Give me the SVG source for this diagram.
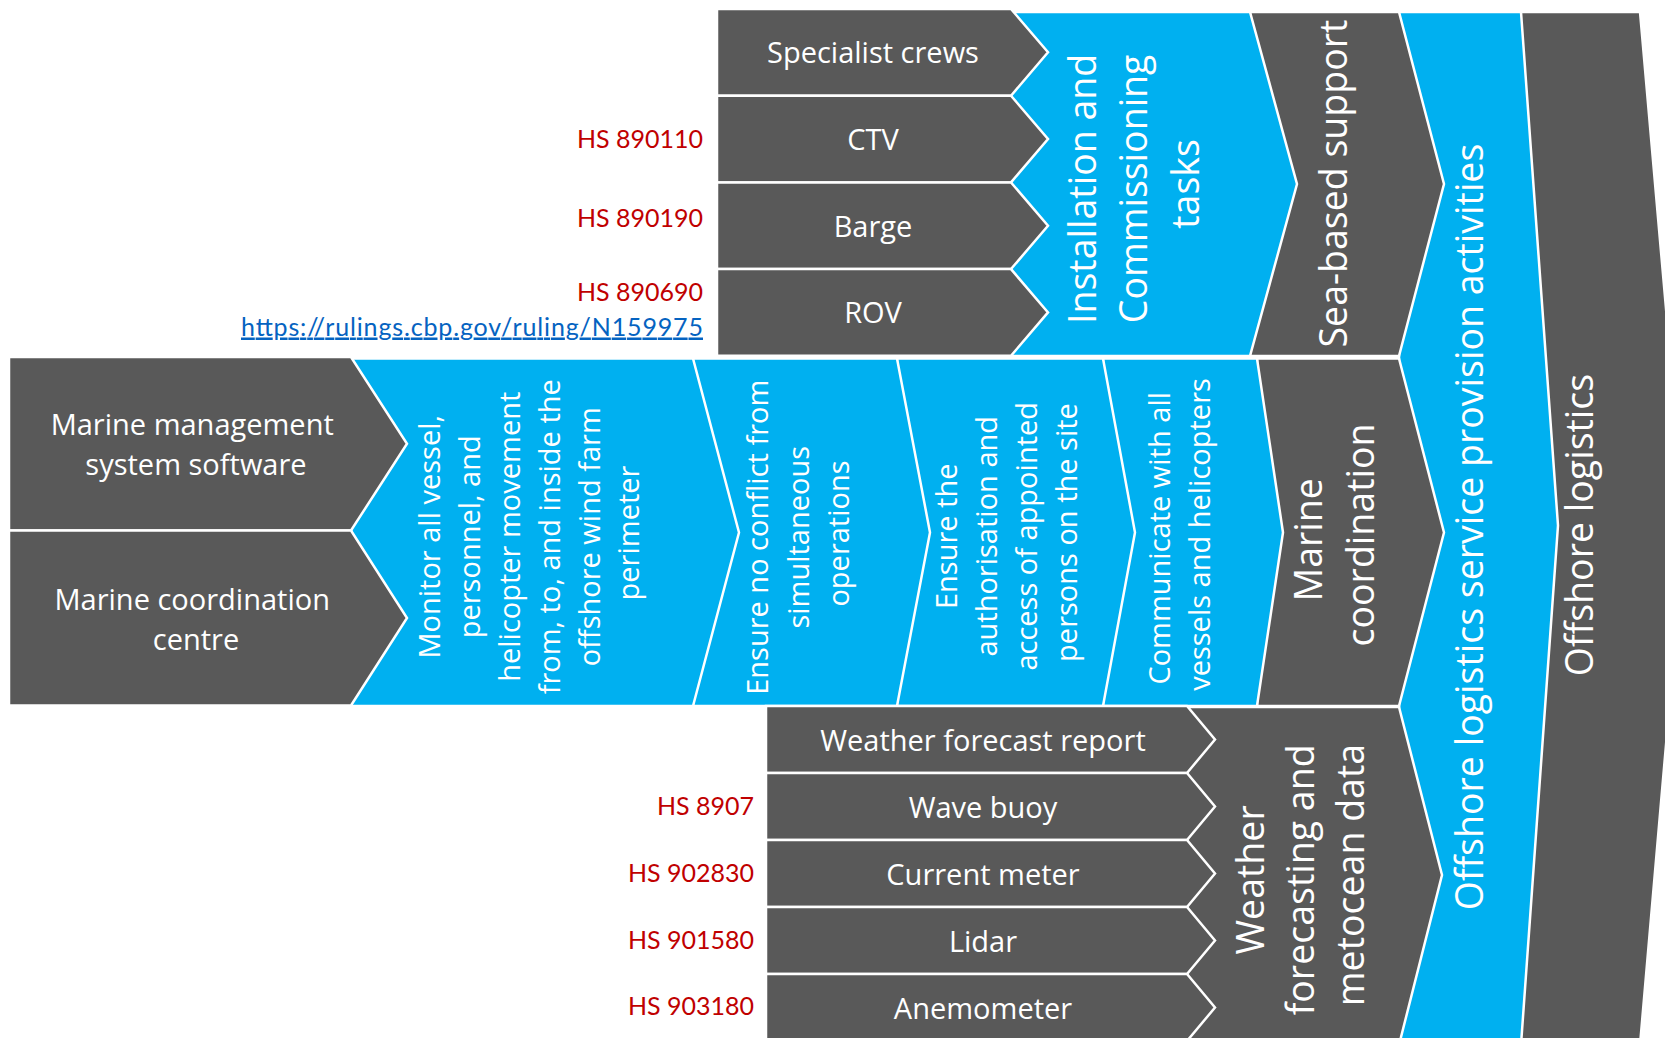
<svg xmlns="http://www.w3.org/2000/svg" width="1665" height="1038" viewBox="0 0 1665 1038">
  <style>
    .g { fill: #595959; stroke: #ffffff; stroke-width: 2.5; stroke-linejoin: miter; }
    .b { fill: #00B0F0; stroke: #ffffff; stroke-width: 2.5; stroke-linejoin: miter; }
    text { font-family: "Open Sans", "Liberation Sans", sans-serif; fill: #ffffff; text-anchor: middle; }
    .h { font-size: 29px; }
    .vl { font-size: 37.5px; }
    .vs { font-size: 29px; }
    .hs { font-family: Lato, "Open Sans", sans-serif; font-size: 25px; fill: #C00000; text-anchor: end; }
    .url { font-family: Lato, "Open Sans", sans-serif; font-size: 25px; fill: #0563C1; text-anchor: end; text-decoration: underline; }
  </style>
  <rect width="1665" height="1038" fill="#ffffff"/>

  <!-- outermost stage -->
  <g id="offshore-logistics">
    <polygon class="g" points="1500,12 1640,12 1685,525.5 1640,1045 1500,1045"/>
    <text class="vl" transform="rotate(-90)" x="-525" y="1593">Offshore logistics</text>
  </g>

  <g id="offshore-logistics-service">
    <polygon class="b" points="1399,12 1521,12 1558,525.5 1521,1045 1399,1045"/>
    <text class="vl" transform="rotate(-90)" x="-527" y="1483">Offshore logistics service provision activities</text>
  </g>

  <!-- second-level stages -->
  <g id="sea-based-support">
    <polygon class="g" points="1250,12 1399,12 1444,184 1399,356 1250,356"/>
    <text class="vl" transform="rotate(-90)" x="-183.5" y="1347">Sea-based support</text>
  </g>

  <g id="marine-coordination">
    <polygon class="g" points="1257,358.5 1399,358.5 1444,532.5 1399,706 1257,706"/>
    <text class="vl" transform="rotate(-90)">
      <tspan x="-535" y="1322">Marine</tspan>
      <tspan x="-535" y="1374">coordination</tspan>
    </text>
  </g>

  <g id="weather-forecasting">
    <polygon class="g" points="1187,707 1399,707 1442,875 1399,1045 1187,1045"/>
    <text class="vl" transform="rotate(-90)">
      <tspan x="-875" y="1264">Weather</tspan>
      <tspan x="-875" y="1314">forecasting and</tspan>
      <tspan x="-875" y="1364">metocean data</tspan>
    </text>
  </g>

  <!-- installation branch -->
  <g id="installation-commissioning">
    <polygon class="b" points="1011,12 1250,12 1297,184 1250,356 1011,356"/>
    <text class="vl" transform="rotate(-90)">
      <tspan x="-184" y="1096">Installation and</tspan>
      <tspan x="-184" y="1147">Commissioning</tspan>
      <tspan x="-184" y="1199">tasks</tspan>
    </text>
  </g>

  <!-- marine coordination tasks -->
  <g id="communicate">
    <polygon class="b" points="1103,358.5 1257,358.5 1283,532.5 1257,706 1103,706"/>
    <text class="vs" transform="rotate(-90)">
      <tspan x="-534.5" y="1170">Communicate with all</tspan>
      <tspan x="-534.5" y="1210">vessels and helicopters</tspan>
    </text>
  </g>

  <g id="ensure-authorisation">
    <polygon class="b" points="897,358.5 1103,358.5 1135,532.5 1103,706 897,706"/>
    <text class="vs" transform="rotate(-90)">
      <tspan x="-532.5" y="957">Ensure the</tspan>
      <tspan x="-532.5" y="997">authorisation and</tspan>
      <tspan x="-532.5" y="1037">access of appointed</tspan>
      <tspan x="-532.5" y="1077">persons on the site</tspan>
    </text>
  </g>

  <g id="ensure-no-conflict">
    <polygon class="b" points="693,358.5 897,358.5 930,532.5 897,706 693,706"/>
    <text class="vs" transform="rotate(-90)">
      <tspan x="-533.5" y="768">Ensure no conflict from</tspan>
      <tspan x="-533.5" y="808.5">simultaneous</tspan>
      <tspan x="-533.5" y="849">operations</tspan>
    </text>
  </g>

  <g id="monitor-movement">
    <polygon class="b" points="351,358.5 693,358.5 739,532.5 693,706 351,706"/>
    <text class="vs" transform="rotate(-90)">
      <tspan x="-533" y="439.5">Monitor all vessel,</tspan>
      <tspan x="-533" y="479.5">personnel, and</tspan>
      <tspan x="-533" y="519.5">helicopter movement</tspan>
      <tspan x="-533" y="559.5">from, to, and inside the</tspan>
      <tspan x="-533" y="599.5">offshore wind farm</tspan>
      <tspan x="-533" y="639">perimeter</tspan>
    </text>
  </g>

  <!-- sea-based inputs -->
  <g id="specialist-crews">
    <polygon class="g" points="717,9 1011,9 1048,52.3 1011,95.7 717,95.7"/>
    <text class="h" x="873" y="63">Specialist crews</text>
  </g>
  <g id="ctv">
    <polygon class="g" points="717,95.7 1011,95.7 1048,139 1011,182.4 717,182.4"/>
    <text class="h" x="873" y="150">CTV</text>
    <text class="hs" x="703" y="148">HS 890110</text>
  </g>
  <g id="barge">
    <polygon class="g" points="717,182.4 1011,182.4 1048,225.7 1011,269.1 717,269.1"/>
    <text class="h" x="873" y="236.5">Barge</text>
    <text class="hs" x="703" y="226.5">HS 890190</text>
  </g>
  <g id="rov">
    <polygon class="g" points="717,269.1 1011,269.1 1048,312.4 1011,355.8 717,355.8"/>
    <text class="h" x="873" y="322.5">ROV</text>
    <text class="hs" x="703" y="301">HS 890690</text>
    <text class="url" x="703" y="335.5" textLength="462">https://rulings.cbp.gov/ruling/N159975</text>
  </g>

  <!-- marine coordination inputs -->
  <g id="marine-management-software">
    <polygon class="g" points="9,357 351,357 407,443.8 351,530.5 9,530.5"/>
    <text class="h">
      <tspan x="196" y="435">Marine management</tspan>
      <tspan x="196" y="475">system software</tspan>
    </text>
  </g>
  <g id="marine-coordination-centre">
    <polygon class="g" points="9,530.5 351,530.5 407,618 351,705.5 9,705.5"/>
    <text class="h">
      <tspan x="196" y="610">Marine coordination</tspan>
      <tspan x="196" y="650">centre</tspan>
    </text>
  </g>

  <!-- weather inputs -->
  <g id="weather-forecast-report">
    <polygon class="g" points="766,706 1187,706 1215,739.5 1187,773 766,773"/>
    <text class="h" x="983" y="751">Weather forecast report</text>
  </g>
  <g id="wave-buoy">
    <polygon class="g" points="766,773 1187,773 1215,806.5 1187,840 766,840"/>
    <text class="h" x="983" y="818">Wave buoy</text>
    <text class="hs" x="754" y="815">HS 8907</text>
  </g>
  <g id="current-meter">
    <polygon class="g" points="766,840 1187,840 1215,873.5 1187,907 766,907"/>
    <text class="h" x="983" y="885">Current meter</text>
    <text class="hs" x="754" y="882">HS 902830</text>
  </g>
  <g id="lidar">
    <polygon class="g" points="766,907 1187,907 1215,940.5 1187,974 766,974"/>
    <text class="h" x="983" y="952">Lidar</text>
    <text class="hs" x="754" y="948.5">HS 901580</text>
  </g>
  <g id="anemometer">
    <polygon class="g" points="766,974 1187,974 1215,1007.5 1187,1041 766,1041"/>
    <text class="h" x="983" y="1019">Anemometer</text>
    <text class="hs" x="754" y="1015">HS 903180</text>
  </g>

  <g id="connectors"/>
</svg>
